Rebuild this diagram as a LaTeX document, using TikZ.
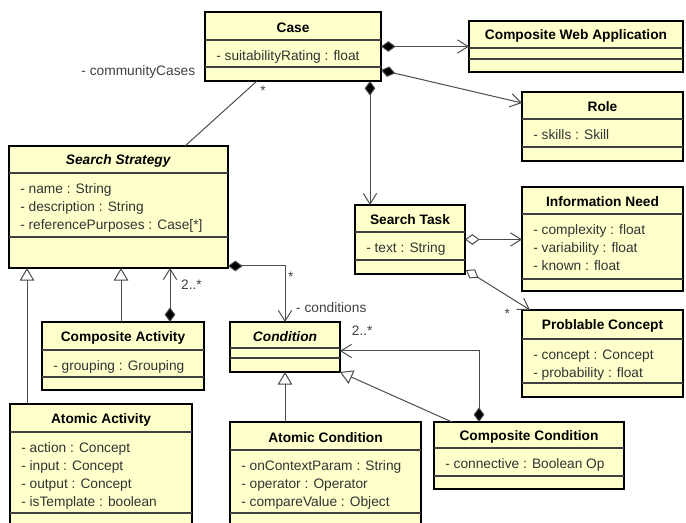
\documentclass[tikz,border=0pt]{standalone}
\usepackage{fontspec}
\setmainfont{Liberation Sans}
\usetikzlibrary{arrows.meta,calc}

\definecolor{classfill}{RGB}{255,255,204}

\begin{document}
\begin{tikzpicture}[
        x=0.75pt, y=-0.75pt,
        cls/.style={draw, line width=1.5pt, fill=classfill, inner sep=0pt, outer sep=0pt},
        divider/.style={draw=black!75, line width=0.9pt},
        clstitle/.style={font=\fontsize{10.3}{13.5}\selectfont\bfseries, inner sep=0pt},
        attr/.style={font=\fontsize{10.3}{13.5}\selectfont, text=black!80, inner sep=0pt, anchor=base west},
        lbl/.style={font=\fontsize{10.3}{13.5}\selectfont, text=black!75, inner sep=1pt},
        link/.style={draw=black!70, line width=0.75pt},
        comp/.style={link, {Diamond[length=11pt,width=8pt,fill=black]}-{Straight Barb[length=8pt,width=10pt]}},
        aggr/.style={link, {Diamond[length=11pt,width=8pt,fill=white]}-{Straight Barb[length=8pt,width=10pt]}},
        gen/.style={link, -{Triangle[length=9.5pt,width=11pt,fill=white]}}
    ]
    \useasboundingbox (0,0) rectangle (686,523);
    \clip (0,0) rectangle (686,523);

    % classes: name/left/top/right/bottom/first divider/second divider/title/attributes
    \foreach \nm/\l/\t/\r/\b/\da/\db/\ttl/\attrs in {
        case/205/12/381/81/40/67/Case/{- suitabilityRating : float},
        cwa/469/21/683/72/48/59/Composite Web Application/{},
        role/522/92/683/161/119/147/Role/{- skills : Skill},
        strat/9/146/228/268/173/237/\textit{Search Strategy}/{- name : String, - description : String, - referencePurposes : Case[*]},
        task/355/205/465/274/232/260/Search Task/{- text : String},
        info/522/187/683/291/214/279/Information Need/{- complexity : float, - variability : float, - known : float},
        prob/522/310/683/397/339/383/Problable Concept/{- concept : Concept, - probability : float},
        cact/42/322/204/390/350/377/Composite Activity/{- grouping : Grouping},
        cond/230/322/340/372/348/358/\textit{Condition}/{},
        aact/10/404/192/540/432/513/Atomic Activity/{- action : Concept, - input : Concept, - output : Concept, - isTemplate : boolean},
        acond/230/422/421/540/450/513/Atomic Condition/{- onContextParam : String, - operator : Operator, - compareValue : Object},
        ccond/434/422/624/489/448/476/Composite Condition/{- connective : Boolean Op}} {
        \node[cls, minimum width={(\r-\l)*0.75pt}, minimum height={(\b-\t)*0.75pt}]
            (\nm) at ({(\l+\r)/2}, {(\t+\b)/2}) {};
        \draw[divider] (\l,\da) -- (\r,\da);
        \draw[divider] (\l,\db) -- (\r,\db);
        \node[clstitle] (\nm-title) at ({(\l+\r)/2}, {(\t+\da)/2+1.5}) {\ttl};
        \foreach \a [count=\k] in \attrs {
            \node[attr] (\nm-a\k) at ({\l+11}, {\da+20.5+18*(\k-1)}) {\a};
        }
    }

    % Case -- Search Strategy
    \draw[link] ($(case.south west)+(52,0)$) -- ($(strat.north west)+(176,0)$)
        node[lbl, at start, anchor=east, xshift=-45pt, yshift=6.75pt] {- communityCases}
        node[lbl, at start, xshift=4.5pt, yshift=-7.5pt] {*};

    % compositions of Case
    \draw[comp] (case.east) -- (cwa.west);
    \draw[comp] ($(case.south east)+(0,-11)$) -- ($(role.north west)+(0,11)$);
    \draw[comp] ($(case.south east)+(-11,0)$) coordinate (ct) -- (ct |- task.north);

    % Search Task aggregations
    \draw[aggr] (task.east) -- (task.east -| info.west);
    \draw[aggr] ($(task.south east)+(1,-4)$) -- ($(prob.north west)+(8,0)$)
        node[lbl, at end, xshift=-17pt, yshift=-2.5pt] {*};

    % Search Strategy -- Condition
    \draw[comp] ($(strat.south east)+(0,-2)$) -| (cond.north)
        node[lbl, pos=0.6, right=1pt] {*}
        node[lbl, pos=0.87, right=7pt] {- conditions};

    % Composite Activity -- Search Strategy
    \draw[comp] ($(cact.north east)+(-34,0)$) coordinate (ca) -- (ca |- strat.south)
        node[lbl, pos=0.69, right=7pt] {2..*};

    % generalizations
    \draw[gen] ($(cact.north west)+(79,0)$) coordinate (cg) -- (cg |- strat.south);
    \draw[gen] ($(aact.north west)+(17,0)$) coordinate (ag) -- (ag |- strat.south);
    \draw[gen] (cond.south |- acond.north) -- (cond.south);
    \draw[gen] ($(ccond.north west)+(18,0)$) -- (cond.south east);

    % Composite Condition -- Condition
    \draw[comp] ($(ccond.north west)+(45,0)$) |- ($(cond.east)+(0,4)$)
        node[lbl, pos=0.92, above=10pt] {2..*};
\end{tikzpicture}
\end{document}
